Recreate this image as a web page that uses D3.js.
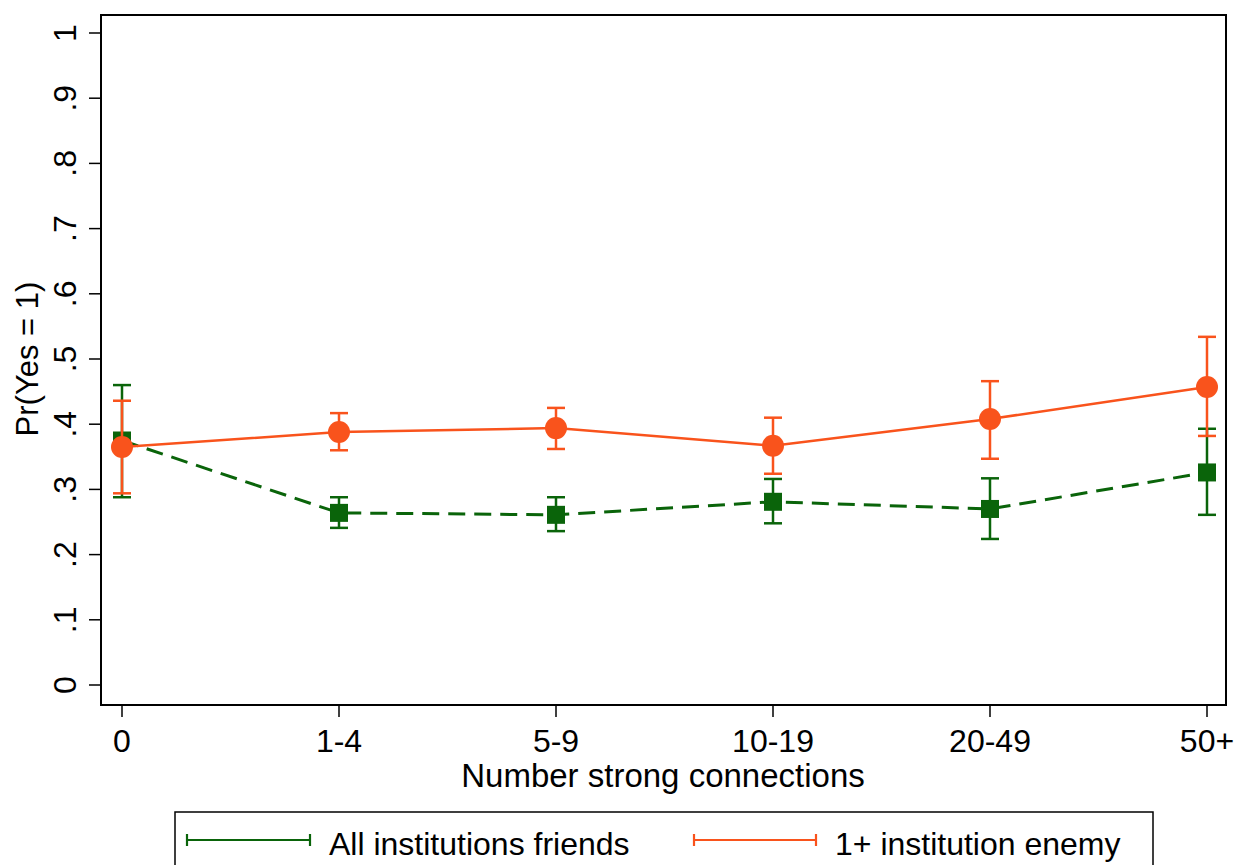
<!DOCTYPE html>
<html>
<head>
<meta charset="utf-8">
<script src="https://cdn.jsdelivr.net/npm/d3@7"></script>
<style>
  body { margin: 0; background: #fff; }
  text { font-family: "Liberation Sans", Arial, Helvetica, sans-serif; fill: #000; }
</style>
</head>
<body>
<svg id="chart" width="1239" height="865"></svg>
<script>
// categories on the x axis
const categories = ["0", "1-4", "5-9", "10-19", "20-49", "50+"];
const yTicks = [0, .1, .2, .3, .4, .5, .6, .7, .8, .9, 1];

// All institutions friends (green, squares, dashed)
const friendsEst = [0.375, 0.264, 0.261, 0.281, 0.270, 0.326];
const friendsLo  = [0.288, 0.241, 0.236, 0.248, 0.224, 0.261];
const friendsHi  = [0.460, 0.288, 0.288, 0.316, 0.317, 0.393];

// 1+ institution enemy (orange, circles, solid)
const enemyEst = [0.365, 0.388, 0.394, 0.367, 0.408, 0.457];
const enemyLo  = [0.294, 0.360, 0.362, 0.324, 0.347, 0.382];
const enemyHi  = [0.436, 0.417, 0.425, 0.410, 0.466, 0.534];

const green = "#0a640a", orange = "#f9531c";

const svg = d3.select("#chart");
const x = d3.scalePoint().domain(categories).range([122, 1207]);
const y = d3.scaleLinear().domain([0, 1]).range([685, 33]);

// plot frame
svg.append("rect")
  .attr("x", 101).attr("y", 15).attr("width", 1125).attr("height", 690)
  .attr("fill", "none").attr("stroke", "#000").attr("stroke-width", 2);

// y axis
const yAxis = svg.append("g")
yAxis.selectAll("line").data(yTicks).enter().append("line")
  .attr("x1", 89).attr("x2", 101)
  .attr("y1", d => y(d)).attr("y2", d => y(d))
  .attr("stroke", "#000").attr("stroke-width", 1.5);
yAxis.selectAll("text").data(yTicks).enter().append("text")
  .attr("transform", d => `translate(76,${y(d)}) rotate(-90)`)
  .attr("text-anchor", "middle")
  .attr("font-size", 32)
  .text(d => d === 0 ? "0" : d === 1 ? "1" : d3.format(".1f")(d).replace(/^0/, ""));

svg.append("text")
  .attr("transform", `translate(38,359) rotate(-90)`)
  .attr("text-anchor", "middle")
  .attr("font-size", 31)
  .text("Pr(Yes = 1)");

// x axis
const xAxis = svg.append("g");
xAxis.selectAll("line").data(categories).enter().append("line")
  .attr("x1", d => x(d)).attr("x2", d => x(d))
  .attr("y1", 705).attr("y2", 717)
  .attr("stroke", "#000").attr("stroke-width", 1.5);
xAxis.selectAll("text").data(categories).enter().append("text")
  .attr("x", d => x(d)).attr("y", 752)
  .attr("text-anchor", "middle")
  .attr("font-size", 32)
  .text(d => d);

svg.append("text")
  .attr("x", 663).attr("y", 787)
  .attr("text-anchor", "middle")
  .attr("font-size", 33)
  .text("Number strong connections");

function drawSeries(est, lo, hi, color, dashed, marker) {
  const g = svg.append("g");
  const pts = categories.map((c, i) => ({c: c, est: est[i], lo: lo[i], hi: hi[i]}));
  // error bars
  g.selectAll(".ci").data(pts).enter().append("line")
    .attr("x1", d => x(d.c)).attr("x2", d => x(d.c))
    .attr("y1", d => y(d.lo)).attr("y2", d => y(d.hi))
    .attr("stroke", color).attr("stroke-width", 2.5);
  ["lo", "hi"].forEach(k => {
    g.selectAll(".cap" + k).data(pts).enter().append("line")
      .attr("x1", d => x(d.c) - 9).attr("x2", d => x(d.c) + 9)
      .attr("y1", d => y(d[k])).attr("y2", d => y(d[k]))
      .attr("stroke", color).attr("stroke-width", 2.5);
  });
  // connecting line
  g.append("path")
    .datum(pts)
    .attr("d", d3.line().x(d => x(d.c)).y(d => y(d.est)))
    .attr("fill", "none").attr("stroke", color)
    .attr("stroke-width", dashed ? 3 : 2.5)
    .attr("stroke-dasharray", dashed ? "17,9" : null);
  // markers
  if (marker === "square") {
    g.selectAll(".m").data(pts).enter().append("rect")
      .attr("x", d => x(d.c) - 9).attr("y", d => y(d.est) - 9)
      .attr("width", 18).attr("height", 18)
      .attr("fill", color);
  } else {
    g.selectAll(".m").data(pts).enter().append("circle")
      .attr("cx", d => x(d.c)).attr("cy", d => y(d.est))
      .attr("r", 11).attr("fill", color);
  }
}

drawSeries(friendsEst, friendsLo, friendsHi, green, true, "square");
drawSeries(enemyEst, enemyLo, enemyHi, orange, false, "circle");

// legend
const legend = svg.append("g");
legend.append("rect")
  .attr("x", 175).attr("y", 812).attr("width", 978).attr("height", 80)
  .attr("fill", "#fff").attr("stroke", "#000").attr("stroke-width", 1.5);

const legendItems = [
  {label: "All institutions friends", color: green, x0: 187, x1: 310},
  {label: "1+ institution enemy", color: orange, x0: 694, x1: 816}
];
legendItems.forEach(it => {
  legend.append("line")
    .attr("x1", it.x0).attr("x2", it.x1).attr("y1", 840).attr("y2", 840)
    .attr("stroke", it.color).attr("stroke-width", 2.2);
  [it.x0, it.x1].forEach(xx => {
    legend.append("line")
      .attr("x1", xx).attr("x2", xx).attr("y1", 834).attr("y2", 846)
      .attr("stroke", it.color).attr("stroke-width", 2.2);
  });
  legend.append("text")
    .attr("x", it.x1 + 19).attr("y", 855)
    .attr("font-size", 32)
    .text(it.label);
});
</script>
</body>
</html>
